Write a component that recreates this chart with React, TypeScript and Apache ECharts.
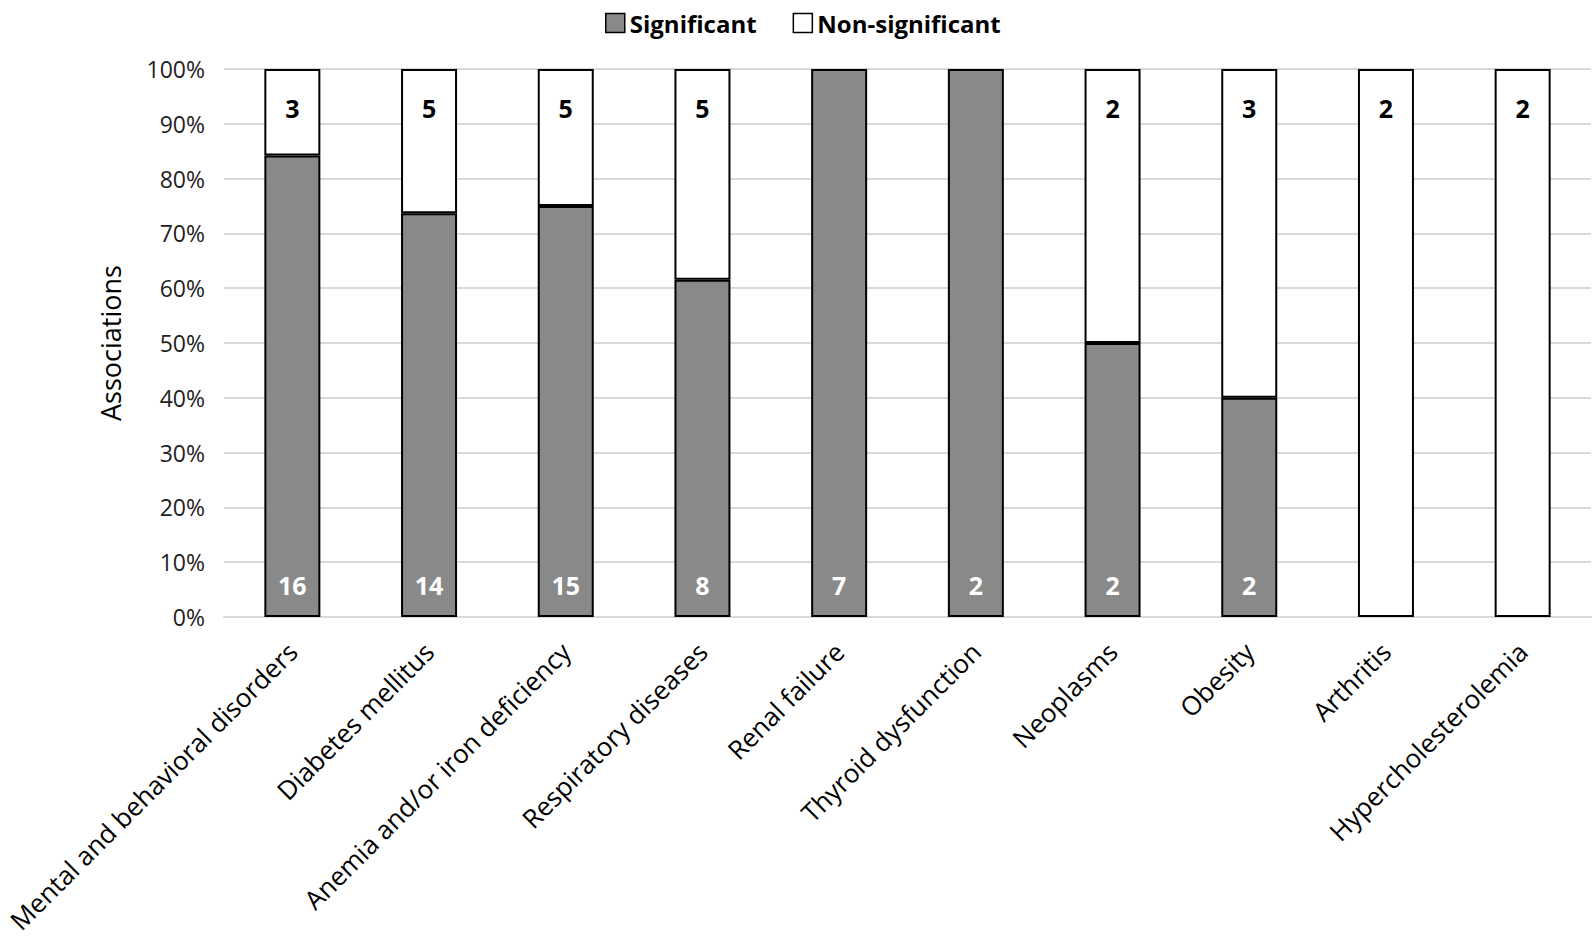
import React, { useEffect, useRef } from "react";
import * as echarts from "echarts";

const categories = [
  "Mental and behavioral disorders",
  "Diabetes mellitus",
  "Anemia and/or iron deficiency",
  "Respiratory diseases",
  "Renal failure",
  "Thyroid dysfunction",
  "Neoplasms",
  "Obesity",
  "Arthritis",
  "Hypercholesterolemia",
];
const significant = [16, 14, 15, 8, 7, 2, 2, 2, 0, 0];
const nonSignificant = [3, 5, 5, 5, 0, 0, 2, 3, 2, 2];
const yTicks = [0, 10, 20, 30, 40, 50, 60, 70, 80, 90, 100];

const FONT = "'Open Sans', 'Noto Sans', sans-serif";

export default function App() {
  const ref = useRef<HTMLDivElement>(null);
  useEffect(() => {
    if (!ref.current) return;
    document.body.style.margin = "0";
    document.body.style.overflow = "hidden";
    const chart = echarts.init(ref.current, undefined, { renderer: "svg" });
    const totals = significant.map((s, i) => s + nonSignificant[i]);
    const toItems = (arr: number[]) =>
      arr.map((v, i) => ({
        value: totals[i] ? (v / totals[i]) * 100 : 0,
        itemStyle: v === 0 ? { borderWidth: 0 } : undefined,
      }));
    chart.setOption({
      animation: false,
      textStyle: { fontFamily: FONT },
      legend: {
        top: 6,
        left: 600,
        itemWidth: 19,
        itemHeight: 19,
        itemGap: 36,
        textStyle: { fontFamily: FONT, fontSize: 24, fontWeight: "bold", color: "#000" },
        data: [
          { name: "Significant", icon: "rect", itemStyle: { color: "#898989", borderColor: "#000", borderWidth: 1.5 } },
          { name: "Non-significant", icon: "rect", itemStyle: { color: "#fff", borderColor: "#000", borderWidth: 1.5 } },
        ],
      },
      grid: { left: 224, right: 3, top: 69, bottom: 328 },
      xAxis: {
        type: "category",
        data: categories,
        axisLine: { show: true, lineStyle: { color: "#d9d9d9", width: 2 } },
        axisTick: { show: false },
        axisLabel: {
          rotate: 45,
          interval: 0,
          fontSize: 26,
          color: "#000",
          fontFamily: FONT,
          margin: 30,
        },
      },
      yAxis: {
        type: "value",
        min: 0,
        max: 100,
        interval: 10,
        name: "Associations",
        nameLocation: "middle",
        nameGap: 100,
        nameTextStyle: { fontSize: 27, color: "#000", fontFamily: FONT },
        axisLine: { show: false },
        axisTick: { show: false },
        splitLine: { lineStyle: { color: "#d9d9d9", width: 2 } },
        axisLabel: {
          fontSize: 23,
          color: "#222",
          fontFamily: FONT,
          margin: 19,
          formatter: (v: number) => (yTicks.includes(v) ? v + "%" : ""),
        },
      },
      series: [
        {
          name: "Significant",
          type: "bar",
          stack: "a",
          barWidth: 56,
          data: toItems(significant),
          itemStyle: { color: "#898989", borderColor: "#000", borderWidth: 2 },
          label: {
            show: true,
            position: "insideBottom",
            distance: 20,
            color: "#fff",
            fontSize: 25,
            fontWeight: "bold",
            fontFamily: FONT,
            formatter: (p: any) => (significant[p.dataIndex] ? String(significant[p.dataIndex]) : ""),
          },
        },
        {
          name: "Non-significant",
          type: "bar",
          stack: "a",
          barWidth: 56,
          data: toItems(nonSignificant),
          itemStyle: { color: "#fff", borderColor: "#000", borderWidth: 2 },
          label: {
            show: true,
            position: "insideTop",
            distance: 26,
            color: "#000",
            fontSize: 25,
            fontWeight: "bold",
            fontFamily: FONT,
            formatter: (p: any) => (nonSignificant[p.dataIndex] ? String(nonSignificant[p.dataIndex]) : ""),
          },
        },
      ],
    });
    return () => chart.dispose();
  }, []);
  return <div ref={ref} style={{ width: 1594, height: 945 }} />;
}
